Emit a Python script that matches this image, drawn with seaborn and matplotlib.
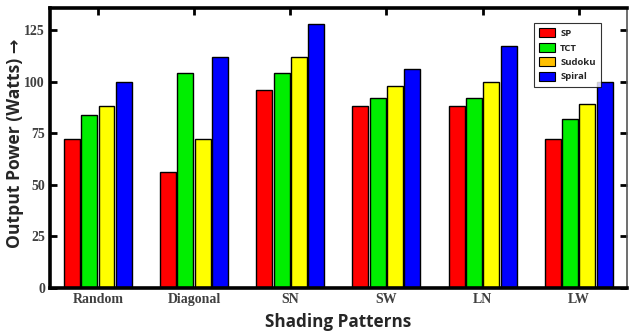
import pandas as pd
import numpy as np
import seaborn as sns
import matplotlib.pyplot as plt
from matplotlib.patches import Patch

patterns = ['Random', 'Diagonal', 'SN', 'SW', 'LN', 'LW']
series = ['SP', 'TCT', 'Sudoku', 'Spiral']
sp = [72, 56, 96, 88, 88, 72]
tct = [84, 104, 104, 92, 92, 82]
sudoku = [88, 72, 112, 98, 100, 89]
spiral = [100, 112, 128, 106, 117, 100]

bar_colors = ['#ff0000', '#00ee00', '#ffff00', '#0000ff']
legend_colors = ['#ff0000', '#00ee00', '#ffc000', '#0000ff']

df = pd.DataFrame({'pattern': patterns, 'SP': sp, 'TCT': tct, 'Sudoku': sudoku, 'Spiral': spiral})
df = df.melt(id_vars='pattern', var_name='method', value_name='power')

sns.set_style('white')
fig, ax = plt.subplots(figsize=(6.3, 3.33), dpi=100)
fig.subplots_adjust(left=0.079, right=0.995, bottom=0.135, top=0.976)

sns.barplot(data=df, x='pattern', y='power', hue='method', hue_order=series,
            palette=bar_colors, width=0.72, gap=0.08, edgecolor='black',
            linewidth=1, saturation=1, legend=False, ax=ax)

ax.set_ylim(0, 135.6)
ax.set_xlim(-0.5, 5.5)
ax.set_yticks([0, 25, 50, 75, 100, 125])

for s in ['left', 'bottom', 'top']:
    ax.spines[s].set_linewidth(2.6)
    ax.spines[s].set_color('black')
ax.spines['right'].set_linewidth(1.2)
ax.spines['right'].set_color('#555555')

ax.tick_params(axis='y', direction='in', left=True, right=True, length=5, width=2, color='black')
ax.tick_params(axis='x', direction='in', bottom=False, top=True, length=5, width=2, color='black')

for lab in ax.get_xticklabels() + ax.get_yticklabels():
    lab.set_family('Liberation Serif')
    lab.set_fontweight('bold')
    lab.set_fontsize(10)
    lab.set_color('#404040')

ax.set_xlabel('Shading Patterns', fontsize=12.3, fontweight='bold',
              family=['Open Sans', 'DejaVu Sans'], labelpad=5)
ax.set_ylabel('Output Power (Watts) →', fontsize=12.6, fontweight='bold',
              family=['Open Sans', 'DejaVu Sans'])
ax.yaxis.set_label_coords(-0.045, 0.516)

handles = [Patch(facecolor=c, edgecolor='black', linewidth=0.8) for c in legend_colors]
leg = ax.legend(handles, series, loc='upper right', bbox_to_anchor=(0.955, 0.946),
                borderaxespad=0,
                prop={'family': 'Open Sans', 'weight': 'bold', 'size': 6.8},
                frameon=True, fancybox=False, edgecolor='black',
                handlelength=1.6, handleheight=1.1, labelspacing=0.5,
                borderpad=0.55, handletextpad=0.6)
leg.get_frame().set_linewidth(0.8)

plt.savefig('out.png', dpi=100)
plt.close()
